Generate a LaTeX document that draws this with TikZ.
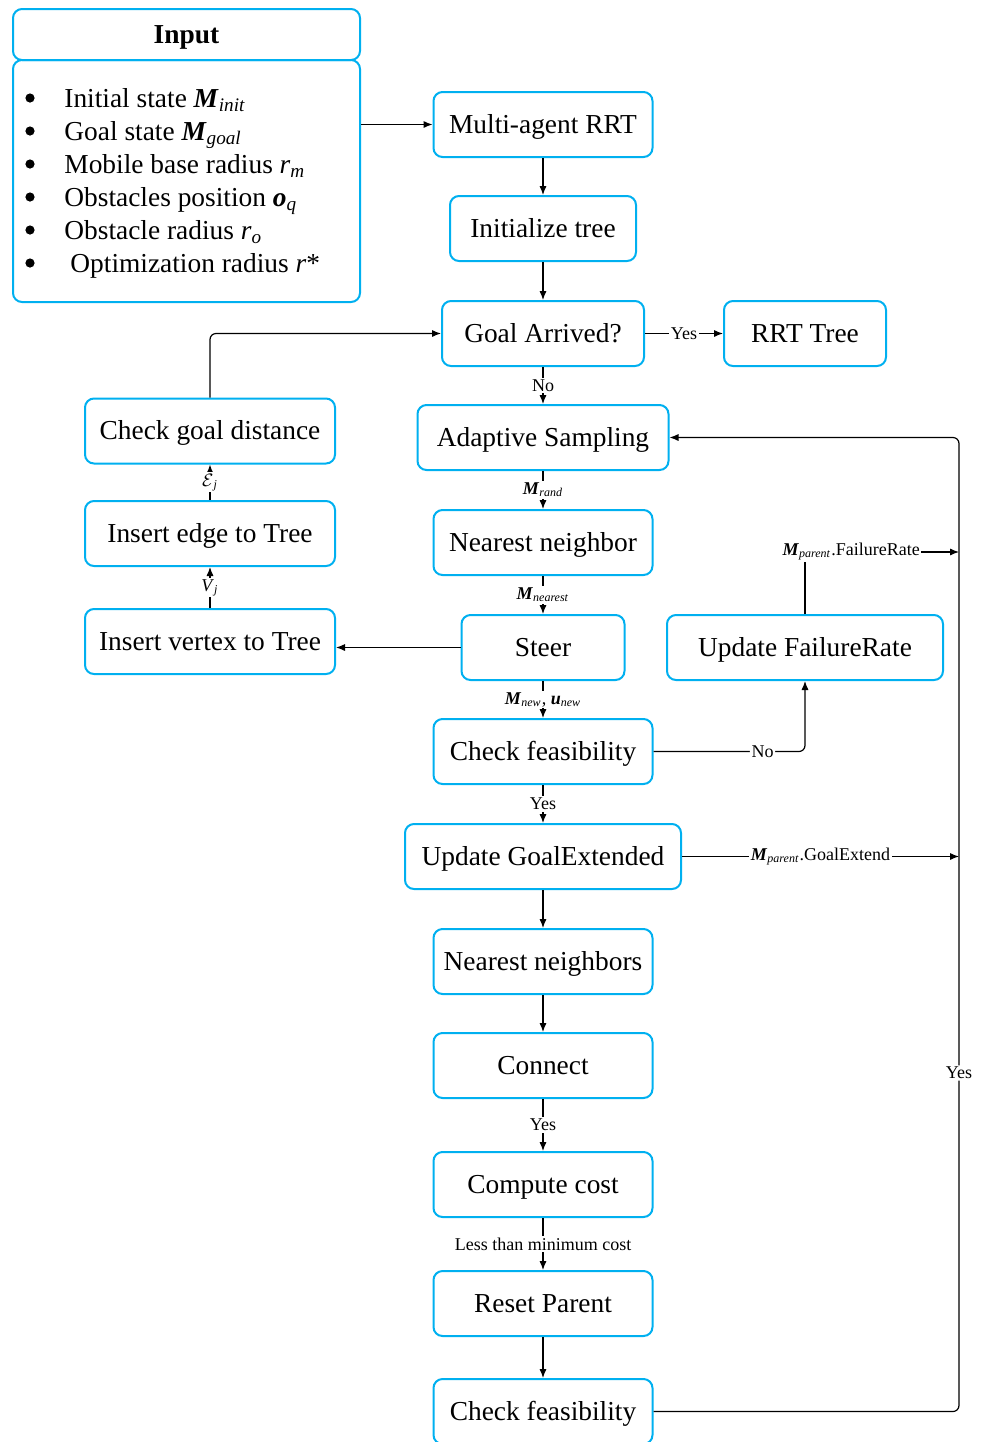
\documentclass[tikz,border=0pt]{standalone}
\usepackage{fontspec}
\setmainfont{Liberation Serif}
\usetikzlibrary{arrows.meta,positioning}
\definecolor{boxblue}{RGB}{0,176,240}
\newcommand{\bM}{\textbf{\textit{M}}}

\begin{document}
\begin{tikzpicture}[x=0.5pt,y=-0.5pt]
	\tikzset{proc/.style={draw=boxblue,line width=1pt,rounded corners=4.5pt,
			minimum height=32.5pt,inner sep=2pt,text height=11pt,text depth=2.5pt,
			font=\fontsize{13.7}{16}\selectfont}}
	\tikzset{flow/.style={draw,line width=0.6pt,-{Latex[length=4.5pt,width=3.6pt]}}}
	\tikzset{lbl/.style={fill=white,inner sep=0.8pt,font=\fontsize{9}{10}\selectfont}}
	\useasboundingbox (0,0) rectangle (984,1442);
	% input block
	\node[proc,minimum width=173.5pt,minimum height=25.5pt,font=\bfseries\fontsize{13.7}{16}\selectfont] (inhead) at (186.5,34.5) {Input};
	\node[proc,minimum width=173.5pt,minimum height=121pt] (inbody) at (186.5,181) {};
	\node[anchor=west,inner sep=0pt,font=\fontsize{13.7}{16.5}\selectfont] (inlist) at (64,183) {%
		\begin{tabular}{@{}l@{}}
			Initial state \bM\textsubscript{\textit{init}}\\
			Goal state \bM\textsubscript{\textit{goal}}\\
			Mobile base radius \textit{r}\textsubscript{\textit{m}}\\
			Obstacles position \textbf{\textit{o}}\textsubscript{\textit{q}}\\
			Obstacle radius \textit{r}\textsubscript{\textit{o}}\\
			\hspace{3pt}Optimization radius \textit{r}*
	\end{tabular}};
	\foreach \y in {98,131,164,197,230,263}
		\fill (30,\y) circle (2.3pt);
	% main column
	\node[proc,minimum width=109.5pt] (multi) at (543,124.5) {Multi-agent RRT};
	\node[proc,minimum width=93pt] (init) at (543,228.5) {Initialize tree};
	\node[proc,minimum width=101pt] (goal) at (543,333.5) {Goal Arrived?};
	\node[proc,minimum width=81pt] (rrt) at (805,333.5) {RRT Tree};
	\node[proc,minimum width=125.5pt] (adapt) at (543,437.5) {Adaptive Sampling};
	\node[proc,minimum width=109.5pt] (near) at (543,542.5) {Nearest neighbor};
	\node[proc,minimum width=81.5pt] (steer) at (543,647.5) {Steer};
	\node[proc,minimum width=109.5pt] (feas) at (543,751.5) {Check feasibility};
	\node[proc,minimum width=138pt] (goalext) at (543,856.5) {Update GoalExtended};
	\node[proc,minimum width=109.5pt] (nears) at (543,961.5) {Nearest neighbors};
	\node[proc,minimum width=109.5pt] (conn) at (543,1065.5) {Connect};
	\node[proc,minimum width=109.5pt] (cost) at (543,1184.5) {Compute cost};
	\node[proc,minimum width=109.5pt] (reset) at (543,1303.5) {Reset Parent};
	\node[proc,minimum width=109.5pt] (feastwo) at (543,1411.5) {Check feasibility};
	\node[proc,minimum width=138pt] (failrate) at (805,647.5) {Update FailureRate};
	% left column
	\node[proc,minimum width=125pt] (goaldist) at (210,431) {Check goal distance};
	\node[proc,minimum width=125pt] (insedge) at (210,533.5) {Insert edge to Tree};
	\node[proc,minimum width=125pt] (insvert) at (210,641.5) {Insert vertex to Tree};
	\coordinate (rail) at (959,1073);
	\coordinate (frturn) at (805,552);
	% connectors
	\draw[flow] (inbody.east |- multi.west) -- (multi.west);
	\draw[flow] (multi) -- (init);
	\draw[flow] (init) -- (goal);
	\draw[flow] (goal) -- node[lbl]{Yes} (rrt);
	\draw[flow] (goal) -- node[lbl]{No} (adapt);
	\draw[flow] (adapt) -- node[lbl]{\bM\textsubscript{\textit{rand}}} (near);
	\draw[flow] (near) -- node[lbl]{\bM\textsubscript{\textit{nearest}}} (steer);
	\draw[flow] (steer) -- node[lbl]{\bM\textsubscript{\textit{new}}, \textbf{\textit{u}}\textsubscript{\textit{new}}} (feas);
	\draw[flow] (feas) -- node[lbl]{Yes} (goalext);
	\draw[flow] (goalext) -- (nears);
	\draw[flow] (nears) -- (conn);
	\draw[flow] (conn) -- node[lbl]{Yes} (cost);
	\draw[flow] (cost) -- node[lbl]{Less than minimum cost} (reset);
	\draw[flow] (reset) -- (feastwo);
	\draw[flow,rounded corners=3pt] (feastwo.east) -| (rail) node[lbl]{Yes} |- (adapt.east);
	\draw[flow] (failrate.north) -- (frturn) -- node[lbl,pos=0.3]{\bM\textsubscript{\textit{parent}}.FailureRate} (frturn -| rail);
	\draw[flow] (goalext.east) -- node[lbl]{\bM\textsubscript{\textit{parent}}.GoalExtend} (goalext.east -| rail);
	\draw[flow,rounded corners=3pt] (feas.east) -| node[lbl,pos=0.36]{No} (failrate.south);
	\draw[flow] (steer.west) -- (steer.west -| insvert.east);
	\draw[flow] (insvert) -- node[lbl]{\textit{V}\textsubscript{\textit{j}}} (insedge);
	\draw[flow] (insedge) -- node[lbl]{$\mathcal{E}$\textsubscript{\textit{j}}} (goaldist);
	\draw[flow,rounded corners=3pt] (goaldist.north) |- (goal.west);
\end{tikzpicture}
\end{document}
